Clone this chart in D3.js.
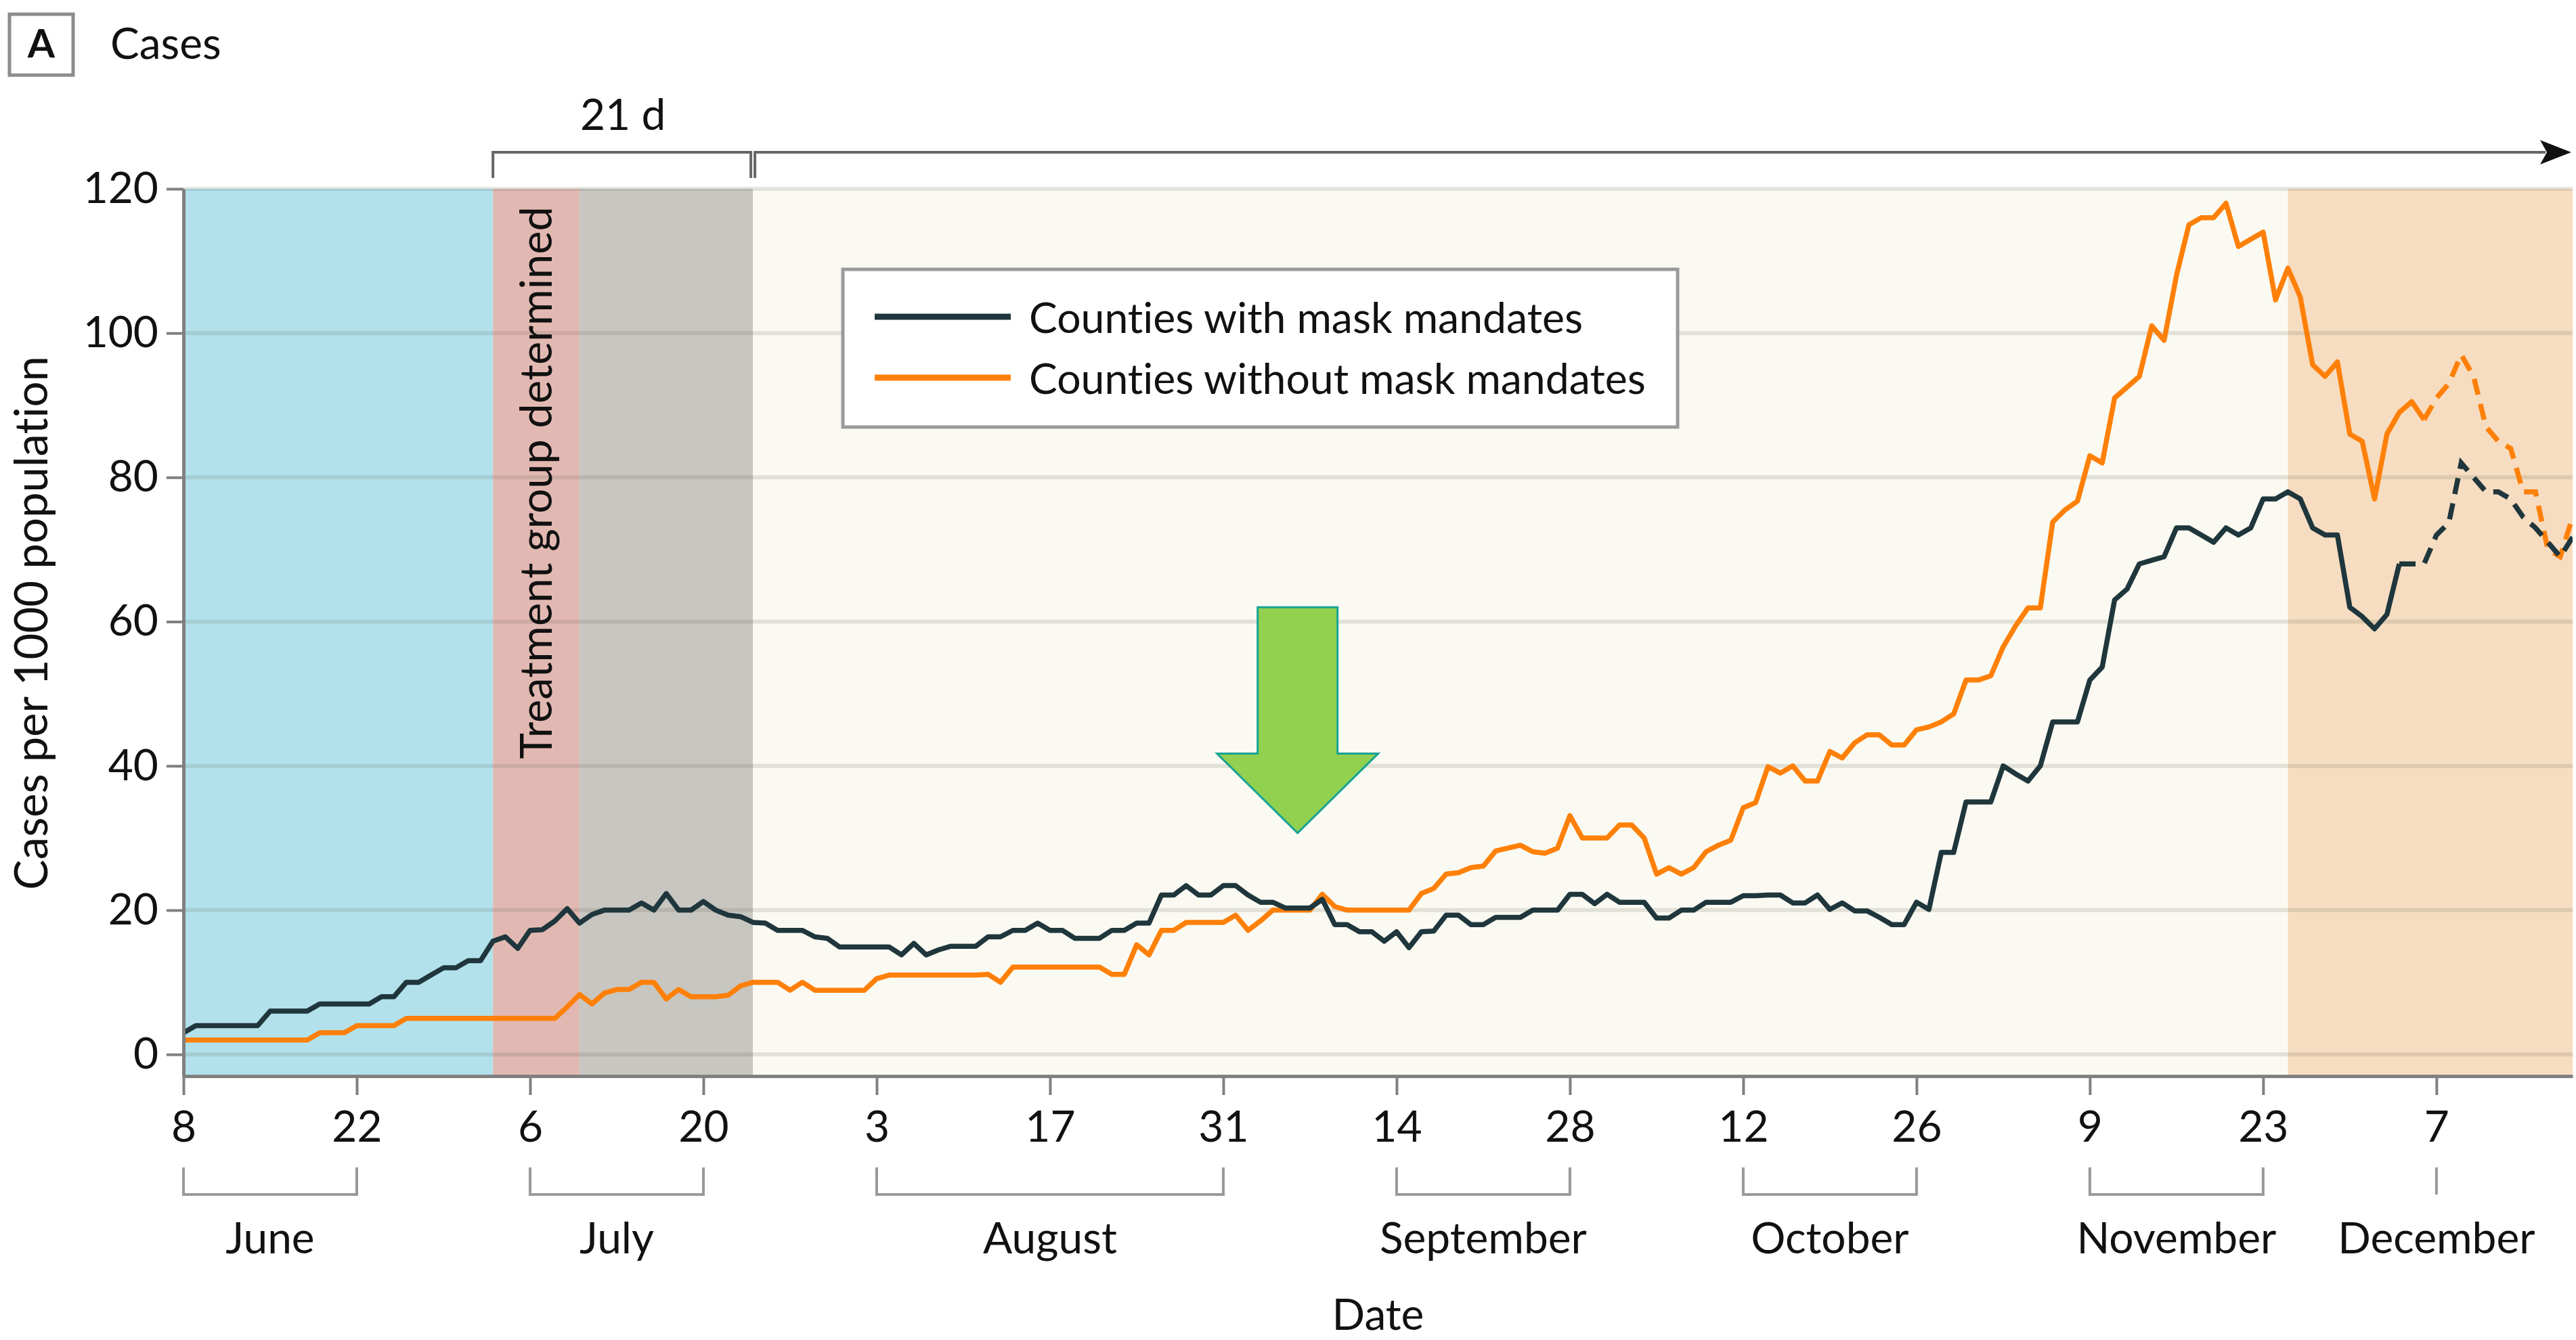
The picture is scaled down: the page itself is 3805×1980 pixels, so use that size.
<!DOCTYPE html>
<html>
<head>
<meta charset="utf-8">
<title>Cases</title>
<script src="https://cdn.jsdelivr.net/npm/d3@7"></script>
<style>
    html, body { margin: 0; padding: 0; background: #fff; }
    svg { display: block; font-family: Lato, "Open Sans", sans-serif; font-variant-ligatures: none; }
</style>
</head>
<body>
<svg id="chart" width="3805" height="1980"></svg>
<script>
// Cases per 1000 population, counties with vs without mask mandates.
// One value per day starting June 8; last days are drawn dashed.

const START_DATE = "2020-06-08";
const END_DATE = "2020-12-18";

// Counties with mask mandates (one row per week)
const withMandates = [
    3, 4, 4, 4, 4, 4, 4,
    6, 6, 6, 6, 7, 7, 7,
    7, 7, 8, 8, 10, 10, 11,
    12, 12, 13, 13, 15.7, 16.3, 14.7,
    17.2, 17.3, 18.5, 20.2, 18.2, 19.4, 20,
    20, 20, 21, 20, 22.3, 20, 20,
    21.2, 20, 19.3, 19.1, 18.3, 18.2, 17.2,
    17.2, 17.2, 16.3, 16.1, 14.9, 14.9, 14.9,
    14.9, 14.9, 13.8, 15.4, 13.8, 14.5, 15,
    15, 15, 16.3, 16.3, 17.2, 17.2, 18.2,
    17.2, 17.2, 16.1, 16.1, 16.1, 17.2, 17.2,
    18.2, 18.2, 22.1, 22.1, 23.4, 22.1, 22.1,
    23.4, 23.4, 22.1, 21.1, 21.1, 20.3, 20.3,
    20.3, 21.5, 18, 18, 17, 17, 15.7,
    17, 14.8, 17, 17.1, 19.3, 19.3, 18,
    18, 19, 19, 19, 20, 20, 20,
    22.2, 22.2, 20.9, 22.2, 21.1, 21.1, 21.1,
    18.9, 18.9, 20, 20, 21.1, 21.1, 21.1,
    22, 22, 22.1, 22.1, 21, 21, 22.1,
    20.1, 21, 19.9, 19.9, 19, 18, 18,
    21.1, 20.1, 28, 28, 35, 35, 35,
    40, 38.9, 37.9, 40, 46.1, 46.1, 46.1,
    51.9, 53.7, 63, 64.5, 68, 68.5, 69,
    73, 73, 72, 71, 73, 72, 73,
    77, 77, 78, 77, 73, 72, 72,
    62, 60.7, 59, 61, 68, 68, 68,
    72, 73.7, 82, 80, 78, 78, 77,
    74.5, 73, 71, 69, 71.7
];

// Counties without mask mandates
const withoutMandates = [
    2, 2, 2, 2, 2, 2, 2,
    2, 2, 2, 2, 3, 3, 3,
    4, 4, 4, 4, 5, 5, 5,
    5, 5, 5, 5, 5, 5, 5,
    5, 5, 5, 6.6, 8.3, 7, 8.5,
    9, 9, 10, 10, 7.7, 9, 8,
    8, 8, 8.2, 9.5, 10, 10, 10,
    8.9, 10, 8.9, 8.9, 8.9, 8.9, 8.9,
    10.5, 11, 11, 11, 11, 11, 11,
    11, 11, 11.1, 10, 12.1, 12.1, 12.1,
    12.1, 12.1, 12.1, 12.1, 12.1, 11.1, 11.1,
    15.2, 13.8, 17.2, 17.2, 18.3, 18.3, 18.3,
    18.3, 19.3, 17.2, 18.5, 20, 20, 20,
    20, 22.2, 20.5, 20, 20, 20, 20,
    20, 20, 22.3, 23, 25, 25.2, 25.9,
    26.1, 28.2, 28.6, 29, 28.1, 27.9, 28.6,
    33.1, 30, 30, 30, 31.8, 31.8, 30,
    25, 25.9, 25, 25.9, 28.1, 29, 29.7,
    34.2, 34.9, 39.9, 39, 40, 37.9, 37.9,
    42, 41.1, 43.2, 44.3, 44.3, 42.9, 42.9,
    45, 45.4, 46.1, 47.2, 51.9, 51.9, 52.5,
    56.5, 59.4, 61.9, 61.9, 73.8, 75.5, 76.7,
    83, 82, 91, 92.5, 94, 101, 99,
    108, 115, 116, 116, 118, 112, 113,
    114, 104.6, 109, 105, 95.6, 94, 96,
    86, 85, 77, 86, 89, 90.5, 88,
    91, 93, 97, 94, 87, 85, 84,
    78, 78, 70, 69, 74.5
];

// From these dates on the series are drawn dashed
const DASH_FROM = ["2020-12-04", "2020-12-06"];
const seriesNames = ["Counties with mask mandates", "Counties without mask mandates"];

// Shaded study periods (edges)
const periodEdges = ["2020-06-08", "2020-07-03", "2020-07-10", "2020-07-24", "2020-11-25", "2020-12-18"];
const windowEdges = ["2020-07-03", "2020-07-24"];
const windowLabel = "21 d";
const treatmentLabel = "Treatment group determined";

const yTicks = [0, 20, 40, 60, 80, 100, 120];
const xTickDates = [
    "2020-06-08", "2020-06-22", "2020-07-06", "2020-07-20", "2020-08-03",
    "2020-08-17", "2020-08-31", "2020-09-14", "2020-09-28", "2020-10-12",
    "2020-10-26", "2020-11-09", "2020-11-23", "2020-12-07"
];
const months = ["June", "July", "August", "September", "October", "November", "December"];
const monthSpans = [
    ["2020-06-08", "2020-06-22"], ["2020-07-06", "2020-07-20"], ["2020-08-03", "2020-08-31"],
    ["2020-09-14", "2020-09-28"], ["2020-10-12", "2020-10-26"], ["2020-11-09", "2020-11-23"],
    ["2020-12-07", "2020-12-07"]
];

// Green arrow: date it points at, and its tip / head / top values
const arrowDate = "2020-09-06";
const arrowValues = [30.7, 41.7, 62];

// ── styles ──────────────────────────────────────────
const periodColors = ["#b2e1ec", "#e2b9b2", "#c8c6c1", "#fafaf2", "#f6ddc1"];
const seriesColors = ["#1f363c", "#ff8009"];
const AXIS = "#808080";
const FONT = 64;

const parse = d3.utcParse("%Y-%m-%d");
const svg = d3.select("#chart");

const plotLeft = 271, plotRight = 3800, plotTop = 279, plotBottom = 1590;

const x = d3.scaleUtc()
    .domain([parse(START_DATE), parse(END_DATE)])
    .range([plotLeft, plotRight]);

const y = d3.scaleLinear()
    .domain([-3, 120])
    .range([plotBottom, plotTop]);

svg.append("rect").attr("width", 3805).attr("height", 1980).attr("fill", "#fff");

// Period bands
svg.append("g")
    .selectAll("rect")
    .data(d3.pairs(periodEdges.map(parse)))
    .join("rect")
    .attr("x", d => x(d[0]))
    .attr("width", d => x(d[1]) - x(d[0]))
    .attr("y", y(120))
    .attr("height", y(-3) - y(120))
    .attr("fill", (d, i) => periodColors[i]);

// Grid lines
svg.append("g")
    .selectAll("line")
    .data(yTicks)
    .join("line")
    .attr("x1", plotLeft).attr("x2", plotRight)
    .attr("y1", d => y(d)).attr("y2", d => y(d))
    .attr("stroke", "rgba(90,90,70,0.15)")
    .attr("stroke-width", 6);

// Treatment label inside the pink band
const pink = [parse(periodEdges[1]), parse(periodEdges[2])];
svg.append("text")
    .attr("transform", `translate(${(x(pink[0]) + x(pink[1])) / 2 + 23},${y(120) + 26}) rotate(-90)`)
    .attr("text-anchor", "end")
    .attr("font-size", 65)
    .attr("fill", "#111")
    .text(treatmentLabel);

// ── series ──────────────────────────────────────────
const start = parse(START_DATE);
const series = [withMandates, withoutMandates].map((vals, i) => ({
    name: seriesNames[i],
    color: seriesColors[i],
    dashFrom: parse(DASH_FROM[i]),
    points: vals.map((v, j) => ({ date: d3.utcDay.offset(start, j), value: v }))
}));

const line = d3.line().x(d => x(d.date)).y(d => y(d.value));

svg.append("clipPath").attr("id", "plot-clip")
    .append("rect").attr("x", plotLeft).attr("y", plotTop - 10)
    .attr("width", plotRight - plotLeft).attr("height", plotBottom - plotTop + 10);

const lines = svg.append("g").attr("clip-path", "url(#plot-clip)");
// orange underneath, dark on top
series.slice().reverse().forEach(s => {
    lines.append("path")
        .attr("d", line(s.points.filter(p => p.date <= s.dashFrom)))
        .attr("fill", "none")
        .attr("stroke", s.color)
        .attr("stroke-width", 7.5)
        .attr("stroke-linejoin", "round");
    lines.append("path")
        .attr("d", line(s.points.filter(p => p.date >= s.dashFrom)))
        .attr("fill", "none")
        .attr("stroke", s.color)
        .attr("stroke-width", 7.5)
        .attr("stroke-dasharray", "24,14");
});

// ── axes ────────────────────────────────────────────
const yAxis = svg.append("g")
    .attr("transform", `translate(${plotLeft},0)`)
    .call(d3.axisLeft(y).tickValues(yTicks).tickSize(25).tickSizeOuter(0).tickPadding(12));

const xAxis = svg.append("g")
    .attr("transform", `translate(0,${plotBottom})`)
    .call(d3.axisBottom(x).tickValues(xTickDates.map(parse))
        .tickFormat(d3.utcFormat("%-d")).tickSize(28).tickSizeOuter(0).tickPadding(18));

[yAxis, xAxis].forEach(ax => {
    ax.attr("font-family", null).attr("font-size", FONT);
    ax.select(".domain").attr("stroke", AXIS).attr("stroke-width", 5);
    ax.selectAll(".tick line").attr("stroke", AXIS).attr("stroke-width", 4);
    ax.selectAll(".tick text").attr("fill", "#111");
});
xAxis.selectAll(".tick text").attr("dy", "0.8em");

// Month brackets under the day ticks
const brackets = svg.append("g")
    .attr("fill", "none")
    .attr("stroke", "#999")
    .attr("stroke-width", 4);
monthSpans.forEach((span, i) => {
    const x0 = x(parse(span[0])), x1 = x(parse(span[1]));
    brackets.append("path")
        .attr("d", x0 === x1 ? `M${x0},1725V1765` : `M${x0},1725V1765H${x1}V1725`);
    svg.append("text")
        .attr("x", (x0 + x1) / 2)
        .attr("y", 1852)
        .attr("text-anchor", "middle")
        .attr("font-size", FONT)
        .attr("fill", "#111")
        .text(months[i]);
});

svg.append("text")
    .attr("x", (plotLeft + plotRight) / 2)
    .attr("y", 1965)
    .attr("text-anchor", "middle")
    .attr("font-size", FONT)
    .attr("fill", "#111")
    .text("Date");

svg.append("text")
    .attr("transform", `translate(70,${(plotTop + plotBottom) / 2 - 14}) rotate(-90)`)
    .attr("text-anchor", "middle")
    .attr("font-size", 67)
    .attr("fill", "#111")
    .text("Cases per 1000 population");

// ── 21 d bracket and arrow above the plot ───────────
const w0 = x(parse(windowEdges[0])), w1 = x(parse(windowEdges[1]));
const over = svg.append("g").attr("fill", "none").attr("stroke", "#666").attr("stroke-width", 4);
over.append("path").attr("d", `M${w0},263V225H${w1 - 3}V263`);
over.append("path").attr("d", `M${w1 + 3},263V225H${plotRight - 40}`);
svg.append("path")
    .attr("d", `M${plotRight - 48},207L${plotRight - 2},225L${plotRight - 48},243L${plotRight - 38},225Z`)
    .attr("fill", "#111");
svg.append("text")
    .attr("x", (w0 + w1) / 2)
    .attr("y", 192)
    .attr("text-anchor", "middle")
    .attr("font-size", FONT)
    .attr("fill", "#111")
    .text(windowLabel);

// ── green arrow ─────────────────────────────────────
const gx = x(parse(arrowDate));
const [tipY, headY, topY] = arrowValues.map(y);
svg.append("path")
    .attr("d", `M${gx - 59},${topY}H${gx + 59}V${headY}H${gx + 119}L${gx},${tipY}L${gx - 119},${headY}H${gx - 59}Z`)
    .attr("fill", "#92d050")
    .attr("stroke", "#17a394")
    .attr("stroke-width", 3);

// ── legend ──────────────────────────────────────────
const legend = svg.append("g").attr("transform", "translate(1245,398)");
legend.append("rect")
    .attr("width", 1233).attr("height", 233)
    .attr("fill", "#fff").attr("stroke", "#9a9a9a").attr("stroke-width", 5);
series.forEach((s, i) => {
    const ly = 70 + i * 90;
    legend.append("line")
        .attr("x1", 47).attr("x2", 248)
        .attr("y1", ly).attr("y2", ly)
        .attr("stroke", s.color).attr("stroke-width", 9);
    legend.append("text")
        .attr("x", 275).attr("y", ly + 24)
        .attr("font-size", 62.5)
        .attr("fill", "#111")
        .text(s.name);
});

// ── panel title ─────────────────────────────────────
svg.append("rect")
    .attr("x", 14).attr("y", 21).attr("width", 94).attr("height", 90)
    .attr("fill", "#fff").attr("stroke", "#8c8c8c").attr("stroke-width", 5);
svg.append("text")
    .attr("x", 61).attr("y", 85)
    .attr("text-anchor", "middle")
    .attr("font-size", 58).attr("font-weight", "bold")
    .attr("fill", "#111")
    .text("A");
svg.append("text")
    .attr("x", 163).attr("y", 87)
    .attr("font-size", FONT)
    .attr("fill", "#111")
    .text("Cases");
</script>
</body>
</html>
